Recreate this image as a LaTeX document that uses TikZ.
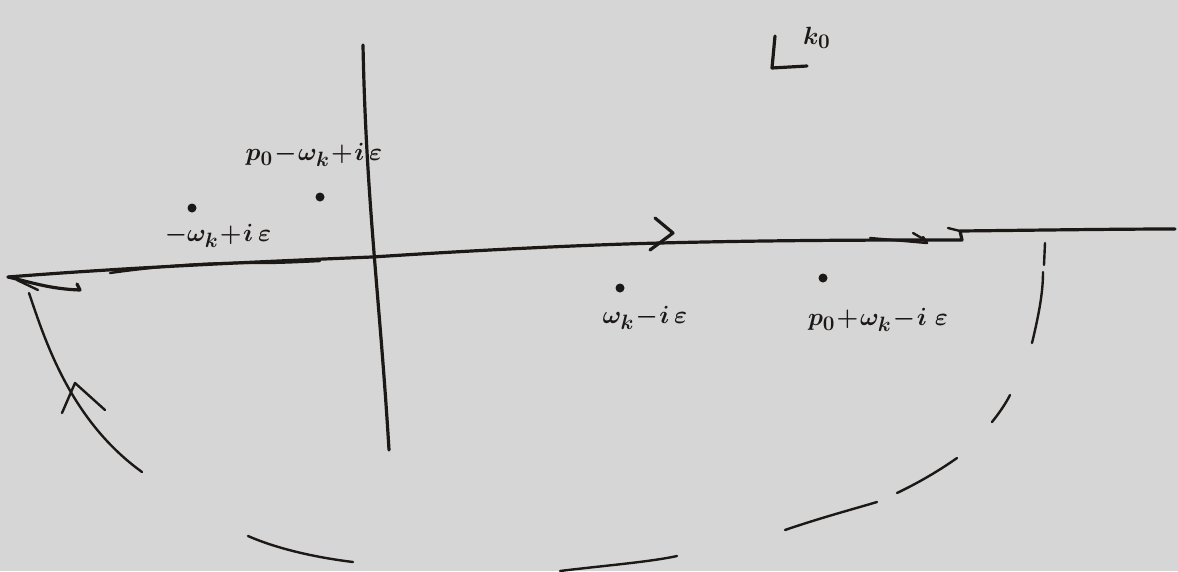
\documentclass[tikz,border=0pt]{standalone}
\usepackage{amsmath}
\definecolor{paper}{RGB}{214,214,214}
\definecolor{ink}{RGB}{28,24,22}
\begin{document}
\begin{tikzpicture}[x=1pt,y=-1pt,
  pen/.style={draw=ink,line width=3.2pt,line cap=round,line join=round},
  thin pen/.style={draw=ink,line width=2.4pt,line cap=round,line join=round},
  pole/.style={circle,fill=ink,inner sep=0pt,minimum size=9pt},
  lbl/.style={text=ink,inner sep=0pt,font=\fontsize{31}{36}\selectfont\boldmath}]
\fill[paper] (0,0) rectangle (1178,571);
\useasboundingbox (0,0) rectangle (1178,571);
% named points
\coordinate (Lft) at (8,277);
\coordinate (Ax0) at (372,257);
\coordinate (Ar) at (660,243);
\coordinate (Hk) at (962,240);
\coordinate (Rt) at (1175,229);
\coordinate (Vt) at (363,45);
\coordinate (Vb) at (389,450);
% vertical axis
\draw[pen] (Vt) .. controls (366,200) and (380,300) .. (Vb);
% real axis / contour
\draw[pen] (Lft) .. controls (120,268) and (250,262) .. (Ax0)
  .. controls (480,250) and (580,245) .. (Ar)
  .. controls (780,240) and (880,240) .. (Hk) -- (960,231)
  .. controls (1050,230) and (1120,229) .. (Rt);
\draw[thin pen] (870,238) -- (927,243) -- (923,237);
\draw[thin pen] (913,233) -- (925,240);
\draw[thin pen] (948,228) -- (960,231);
% arrow on real axis
\draw[pen] (655,218) -- (673,233) -- (650,250);
% lower left doubled line
\draw[thin pen] (110,273) .. controls (160,266) and (210,262) .. (260,263) .. controls (280,263) and (300,262) .. (320,261);
% left end turn-back
\draw[pen] (Lft) .. controls (30,282) and (50,289) .. (80,290) -- (77,284);
\draw[thin pen] (17,280) -- (38,290);
% left arc with arrow
\draw[thin pen] (29,293) .. controls (45,340) and (70,420) .. (142,472);
\draw[thin pen] (62,413) -- (75,383) -- (105,410);
% bottom dashed arc pieces
\draw[thin pen] (248,536) .. controls (280,550) and (320,558) .. (353,562);
\draw[thin pen] (560,571) .. controls (600,566) and (650,562) .. (677,556);
\draw[thin pen] (785,530) .. controls (820,518) and (850,510) .. (877,502);
\draw[thin pen] (897,493) .. controls (920,482) and (940,470) .. (957,458);
\draw[thin pen] (992,422) .. controls (1000,412) and (1006,403) .. (1010,395);
\draw[thin pen] (1032,343) .. controls (1040,310) and (1043,290) .. (1043,272);
\draw[thin pen] (1044,265) -- (1045,243);
% poles
\node[pole] (p1) at (192,208) {};
\node[pole] (p2) at (320,197) {};
\node[pole] (p3) at (620,288) {};
\node[pole] (p4) at (823,278) {};
% labels
\node[lbl] (l2) at (314,155) {$p_0\!-\!\omega_k\!+\!i\,\varepsilon$};
\node[lbl] (l1) at (218,236) {$-\omega_k\!+\!i\,\varepsilon$};
\node[lbl] (l3) at (645,318) {$\omega_k\!-\!i\,\varepsilon$};
\node[lbl] (l4) at (878,320) {$p_0\!+\!\omega_k\!-\!i\;\varepsilon$};
% plane label
\draw[pen] (775,36) -- (772,68) -- (807,66);
\node[lbl,anchor=west] (kz) at (803,38) {$k_0$};
\end{tikzpicture}
\end{document}
